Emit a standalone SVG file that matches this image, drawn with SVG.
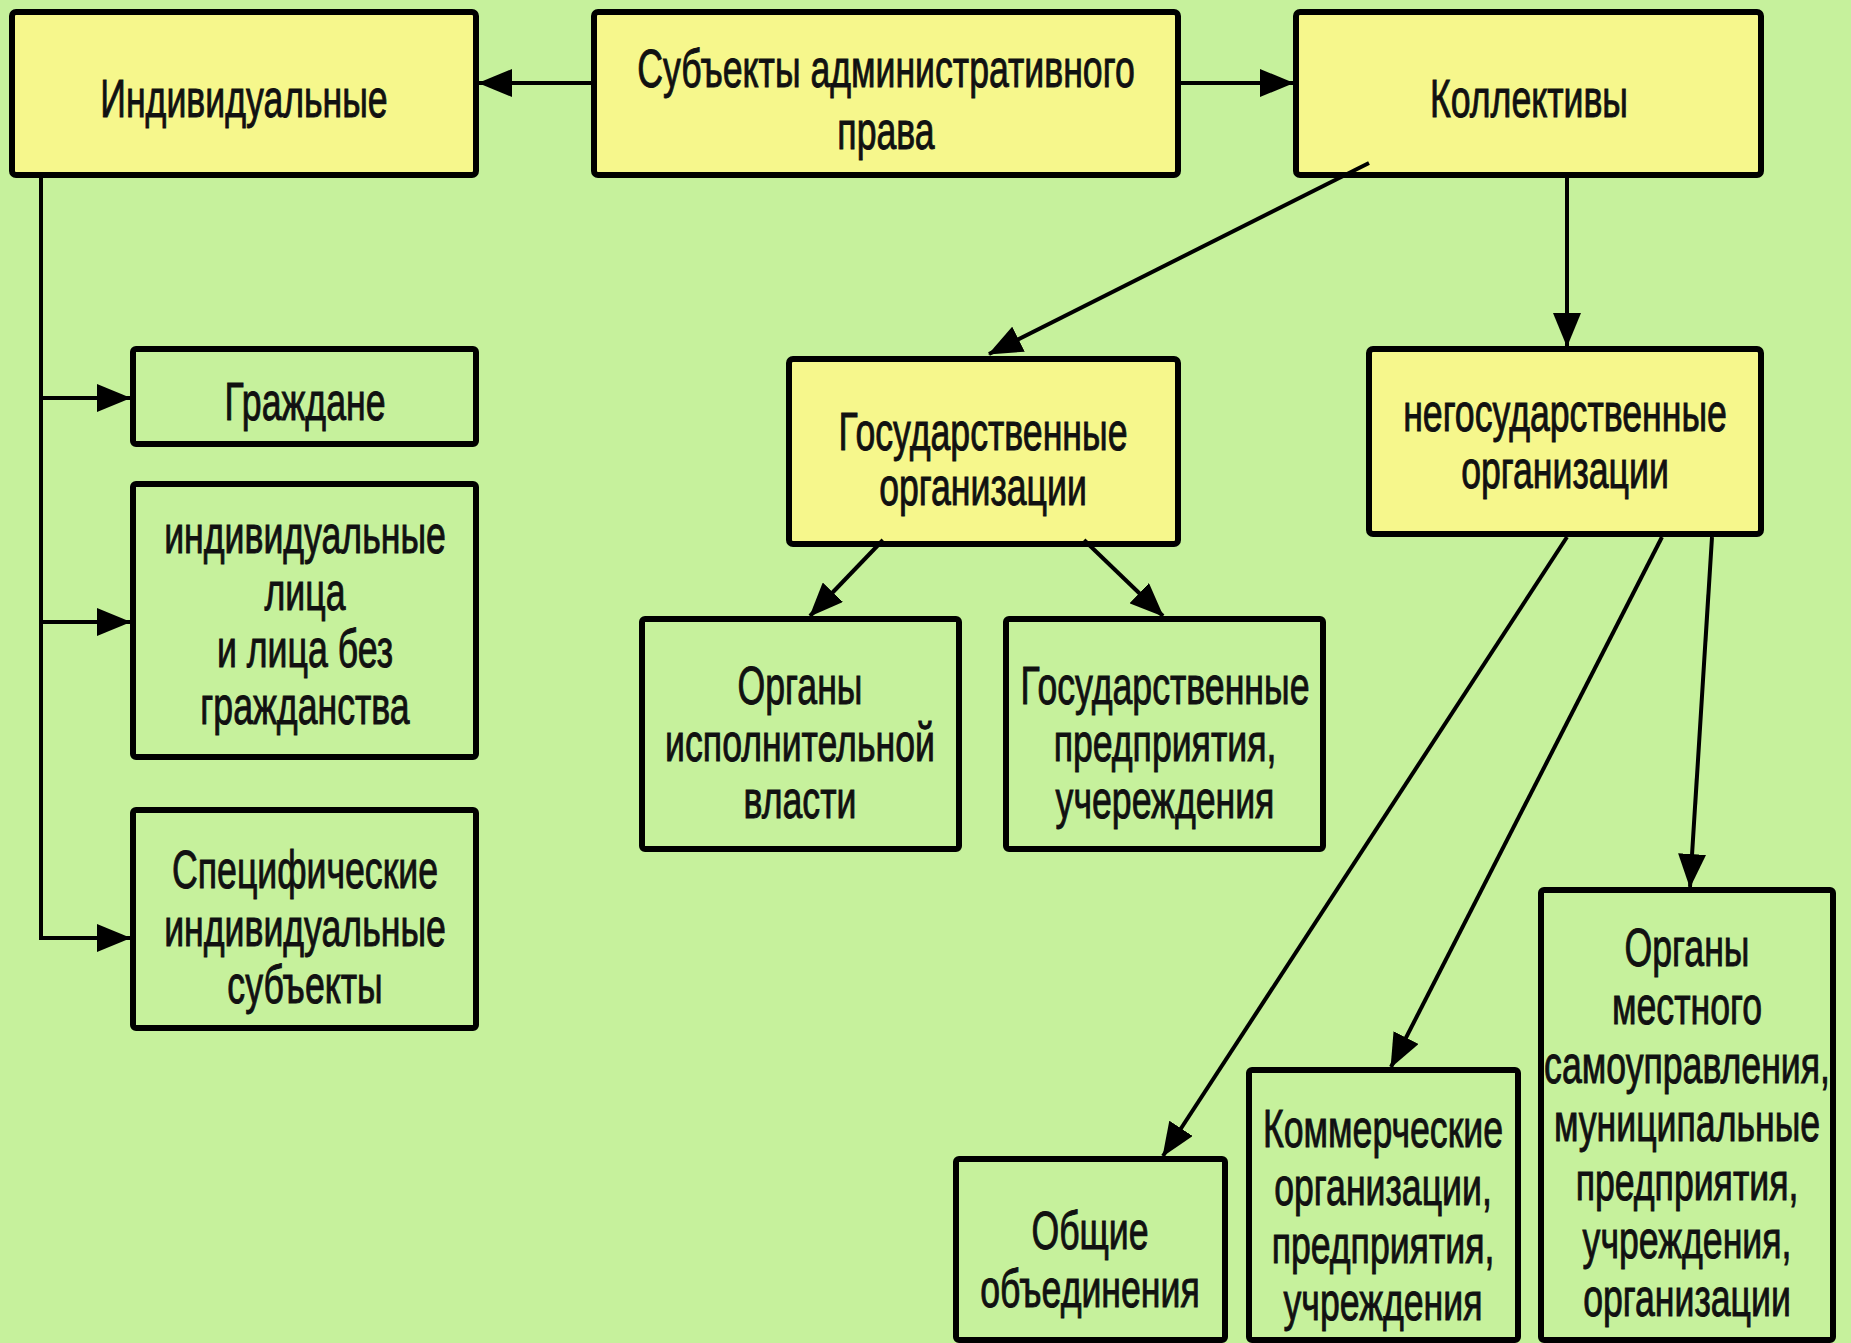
<svg xmlns="http://www.w3.org/2000/svg" width="1851" height="1343" viewBox="0 0 1851 1343">
<defs>
<style>
.bg{fill:#c6f19c}
.y{fill:#f6f78c;stroke:#000;stroke-width:6}
.g{fill:#c6f19c;stroke:#000;stroke-width:6}
.t{font-family:"Liberation Sans",Arial,sans-serif;font-size:54px;fill:#111;stroke:#111;stroke-width:1;text-anchor:middle}
.c{fill:none;stroke:#000;stroke-width:4}
</style>
<marker id="ah" markerUnits="userSpaceOnUse" markerWidth="34" markerHeight="28" viewBox="0 0 34 28" refX="33" refY="14" orient="auto">
<path d="M0,0 L34,14 L0,28 Z" fill="#000"/>
</marker>
</defs>
<rect class="bg" x="0" y="0" width="1851" height="1343"/>

<g id="n-individ">
<rect class="y" x="12" y="12" width="464" height="163" rx="4"/>
<text class="t" transform="matrix(0.66 0 0 1 244 0)"><tspan x="0" y="117">Индивидуальные</tspan></text>
</g>
<g id="n-root">
<rect class="y" x="594" y="12" width="584" height="163" rx="4"/>
<text class="t" transform="matrix(0.66 0 0 1 886 0)"><tspan x="0" y="87">Субъекты административного</tspan><tspan x="0" y="149">права</tspan></text>
</g>
<g id="n-collect">
<rect class="y" x="1296" y="12" width="465" height="163" rx="4"/>
<text class="t" transform="matrix(0.66 0 0 1 1529 0)"><tspan x="0" y="117">Коллективы</tspan></text>
</g>

<g id="n-grazhdane">
<rect class="g" x="133" y="349" width="343" height="95" rx="3"/>
<text class="t" transform="matrix(0.66 0 0 1 305 0)"><tspan x="0" y="420">Граждане</tspan></text>
</g>
<g id="n-indlica">
<rect class="g" x="133" y="484" width="343" height="273" rx="3"/>
<text class="t" transform="matrix(0.66 0 0 1 305 0)"><tspan x="0" y="553">индивидуальные</tspan><tspan x="0" y="610">лица</tspan><tspan x="0" y="667">и лица без</tspan><tspan x="0" y="724">гражданства</tspan></text>
</g>
<g id="n-spec">
<rect class="g" x="133" y="810" width="343" height="218" rx="3"/>
<text class="t" transform="matrix(0.66 0 0 1 305 0)"><tspan x="0" y="888">Специфические</tspan><tspan x="0" y="946">индивидуальные</tspan><tspan x="0" y="1003">субъекты</tspan></text>
</g>

<g id="n-gosorg">
<rect class="y" x="789" y="359" width="389" height="185" rx="4"/>
<text class="t" transform="matrix(0.66 0 0 1 983 0)"><tspan x="0" y="450">Государственные</tspan><tspan x="0" y="505">организации</tspan></text>
</g>
<g id="n-negos">
<rect class="y" x="1369" y="349" width="392" height="185" rx="4"/>
<text class="t" transform="matrix(0.66 0 0 1 1565 0)"><tspan x="0" y="431">негосударственные</tspan><tspan x="0" y="488">организации</tspan></text>
</g>

<g id="n-organy-isp">
<rect class="g" x="642" y="619" width="317" height="230" rx="3"/>
<text class="t" transform="matrix(0.66 0 0 1 800 0)"><tspan x="0" y="704">Органы</tspan><tspan x="0" y="761">исполнительной</tspan><tspan x="0" y="818">власти</tspan></text>
</g>
<g id="n-gospred">
<rect class="g" x="1006" y="619" width="317" height="230" rx="3"/>
<text class="t" transform="matrix(0.66 0 0 1 1165 0)"><tspan x="0" y="704">Государственные</tspan><tspan x="0" y="761">предприятия,</tspan><tspan x="0" y="818">учереждения</tspan></text>
</g>

<g id="n-obshie">
<rect class="g" x="956" y="1159" width="269" height="181" rx="3"/>
<text class="t" transform="matrix(0.66 0 0 1 1090 0)"><tspan x="0" y="1249">Общие</tspan><tspan x="0" y="1307">объединения</tspan></text>
</g>
<g id="n-kommerch">
<rect class="g" x="1249" y="1070" width="269" height="270" rx="3"/>
<text class="t" transform="matrix(0.66 0 0 1 1383 0)"><tspan x="0" y="1147">Коммерческие</tspan><tspan x="0" y="1205">организации,</tspan><tspan x="0" y="1263">предприятия,</tspan><tspan x="0" y="1320">учреждения</tspan></text>
</g>
<g id="n-mestnye">
<rect class="g" x="1541" y="890" width="292" height="450" rx="3"/>
<text class="t" transform="matrix(0.66 0 0 1 1687 0)"><tspan x="0" y="966">Органы</tspan><tspan x="0" y="1024">местного</tspan><tspan x="0" y="1083">самоуправления,</tspan><tspan x="0" y="1141">муниципальные</tspan><tspan x="0" y="1200">предприятия,</tspan><tspan x="0" y="1258">учреждения,</tspan><tspan x="0" y="1316">организации</tspan></text>
</g>

<g id="connectors">
<line class="c" x1="594" y1="83" x2="479" y2="83" marker-end="url(#ah)"/>
<line class="c" x1="1178" y1="83" x2="1293" y2="83" marker-end="url(#ah)"/>
<polyline class="c" points="41,178 41,938"/>
<line class="c" x1="39" y1="398" x2="130" y2="398" marker-end="url(#ah)"/>
<line class="c" x1="39" y1="622" x2="130" y2="622" marker-end="url(#ah)"/>
<line class="c" x1="39" y1="938" x2="130" y2="938" marker-end="url(#ah)"/>
<line class="c" x1="1369" y1="163" x2="989" y2="354" marker-end="url(#ah)"/>
<line class="c" x1="1567" y1="178" x2="1567" y2="346" marker-end="url(#ah)"/>
<line class="c" x1="883" y1="540" x2="810" y2="616" marker-end="url(#ah)"/>
<line class="c" x1="1084" y1="540" x2="1163" y2="616" marker-end="url(#ah)"/>
<line class="c" x1="1567" y1="537" x2="1163" y2="1156" marker-end="url(#ah)"/>
<line class="c" x1="1662" y1="537" x2="1391" y2="1067" marker-end="url(#ah)"/>
<line class="c" x1="1712" y1="537" x2="1690" y2="887" marker-end="url(#ah)"/>
</g>
</svg>
